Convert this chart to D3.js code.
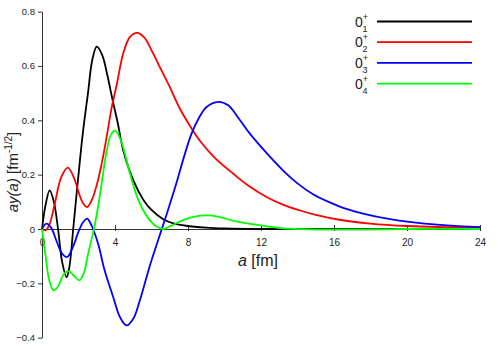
<!DOCTYPE html>
<html>
<head>
<meta charset="utf-8">
<script src="https://cdn.jsdelivr.net/npm/d3@7"></script>
<style>
  body { margin: 0; background: #fff; }
  text { font-family: "Liberation Sans", Arial, sans-serif; fill: #222; }
</style>
</head>
<body>
<svg id="chart" width="498" height="349"></svg>
<script>
// a [fm] and a*y(a) values
const black = [[0,0],[0.2,0.09],[0.42,0.142],[0.65,0.1],[0.88,0],[1.1,-0.12],[1.35,-0.177],[1.5,-0.14],[1.71,0],
  [2.0,0.2],[2.25,0.36],[2.52,0.5],[2.75,0.62],[3.0,0.671],[3.3,0.64],[3.6,0.56],[3.85,0.48],[4.15,0.39],
  [4.45,0.29],[5.0,0.18],[5.55,0.108],[6.0,0.07],[6.64,0.036],[7.2,0.021],[7.9,0.012],[9,0.005],[10,0.002],[12,0],[24,0]];
const red = [[0,0],[0.2,-0.005],[0.4,0.015],[0.69,0.09],[1.05,0.19],[1.42,0.226],[1.8,0.18],[1.97,0.143],[2.25,0.095],
  [2.48,0.081],[2.75,0.11],[3.07,0.18],[3.3,0.25],[3.52,0.33],[3.8,0.44],[4.09,0.53],[4.45,0.646],[4.82,0.707],
  [5.22,0.722],[5.6,0.705],[6.09,0.646],[6.5,0.59],[7.0,0.523],[7.5,0.45],[8.1,0.38],[8.65,0.325],[9.5,0.26],
  [10.47,0.204],[11.3,0.16],[12.3,0.118],[13.2,0.09],[14.1,0.069],[15.0,0.052],[16.3,0.034],[18,0.02],[20,0.011],
  [22,0.007],[24,0.005]];
const blue = [[0,0],[0.24,0.02],[0.5,0.005],[0.8,-0.045],[1.1,-0.09],[1.38,-0.103],[1.7,-0.065],[2.0,-0.01],
  [2.25,0.025],[2.48,0.038],[2.65,0.022],[2.8,0],[3.1,-0.06],[3.43,-0.152],[3.9,-0.25],[4.27,-0.324],[4.63,-0.355],
  [5.0,-0.33],[5.36,-0.263],[5.91,-0.135],[6.28,-0.058],[6.59,0.005],[7.0,0.09],[7.37,0.17],[7.8,0.27],[8.19,0.35],
  [8.65,0.415],[9.0,0.448],[9.65,0.468],[10.2,0.455],[10.8,0.405],[11.4,0.35],[12.3,0.28],[13.2,0.216],[14.0,0.168],
  [14.85,0.128],[15.8,0.097],[16.5,0.078],[17.6,0.057],[19.0,0.037],[20.0,0.027],[22,0.014],[24,0.007]];
const green = [[0,0],[0.2,-0.1],[0.4,-0.19],[0.64,-0.226],[0.9,-0.21],[1.15,-0.17],[1.44,-0.155],[1.75,-0.172],
  [2.04,-0.189],[2.3,-0.16],[2.5,-0.1],[2.7,-0.042],[2.85,0],[3.07,0.081],[3.34,0.2],[3.55,0.29],[3.8,0.35],
  [4.0,0.362],[4.3,0.33],[4.82,0.204],[5.2,0.12],[5.55,0.069],[6.0,0.025],[6.3,0.008],[6.64,0],[7.0,0.01],
  [7.7,0.032],[8.3,0.045],[9.0,0.05],[9.7,0.045],[10.5,0.03],[11.9,0.014],[13.2,0.002],[15,-0.002],[18,-0.002],
  [20,0],[24,0]];

const states = ["1", "2", "3", "4"];
const colors = ["#000000", "#ff0000", "#0000ff", "#00ff00"];
const xTicks = [0, 4, 8, 12, 16, 20, 24];
const yTicks = [-0.4, -0.2, 0, 0.2, 0.4, 0.6, 0.8];

const svg = d3.select("#chart");
const x = d3.scaleLinear().domain([0, 24]).range([42, 480]);
const y = d3.scaleLinear().domain([-0.4, 0.8]).range([337.7, 11.6]);

// y axis
const yAxis = svg.append("g").attr("transform", `translate(${x(0)},0)`)
  .call(d3.axisLeft(y).tickValues(yTicks).tickSize(4).tickSizeOuter(0).tickPadding(3)
    .tickFormat(d => d === 0 ? "0" : d3.format(".1f")(d)));
yAxis.select(".domain").attr("stroke", "#333");
yAxis.selectAll(".tick line").attr("stroke", "#333");
yAxis.selectAll("text").style("font-size", "9.5px").attr("fill", "#222");

// x axis on the zero line
const xAxis = svg.append("g").attr("transform", `translate(0,${y(0)})`)
  .call(d3.axisBottom(x).tickValues(xTicks).tickSize(0).tickSizeOuter(0).tickFormat(d3.format("d")));
xAxis.select(".domain").attr("stroke", "#333");
xAxis.selectAll(".tick line").attr("y1", -4).attr("y2", 2).attr("stroke", "#333");
xAxis.selectAll("text").attr("y", 10).style("font-size", "10px").attr("fill", "#222");

// curves
const line = d3.line().x(d => x(d[0])).y(d => y(d[1])).curve(d3.curveCatmullRom.alpha(0.5));
[black, red, blue, green].forEach((s, i) => {
  svg.append("path").datum(s).attr("d", line)
    .attr("fill", "none").attr("stroke", colors[i]).attr("stroke-width", 1.8);
});

// axis titles
const xt = svg.append("text").attr("x", 258).attr("y", 266).attr("text-anchor", "middle").style("font-size", "16px");
xt.append("tspan").style("font-style", "italic").text("a");
xt.append("tspan").text(" [fm]");

const yt = svg.append("text").attr("transform", "translate(18,172) rotate(-90)")
  .attr("text-anchor", "middle").style("font-size", "15px");
yt.append("tspan").style("font-style", "italic").text("ay(a)");
yt.append("tspan").text(" [fm");
yt.append("tspan").attr("dy", -6).style("font-size", "10px").text("-1/2");
yt.append("tspan").attr("dy", 6).text("]");

// legend
const legend = svg.append("g");
states.forEach((s, i) => {
  const ly = 21.5 + i * 20.7;
  legend.append("line").attr("x1", 377).attr("x2", 472).attr("y1", ly).attr("y2", ly)
    .attr("stroke", colors[i]).attr("stroke-width", 1.8);
  const t = legend.append("text").attr("x", 355).attr("y", ly + 5).style("font-size", "14px");
  t.append("tspan").text("0");
  t.append("tspan").attr("dy", -7).style("font-size", "9px").text("+");
  t.append("tspan").attr("dx", -5.5).attr("dy", 12).style("font-size", "9px").text(s);
});
</script>
</body>
</html>
